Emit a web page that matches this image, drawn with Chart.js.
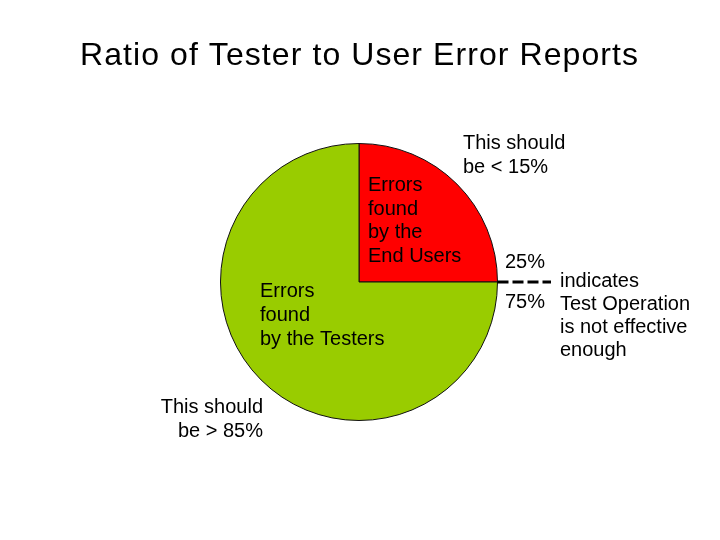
<!DOCTYPE html>
<html>
<head>
<meta charset="utf-8">
<script src="https://cdn.jsdelivr.net/npm/chart.js@4/dist/chart.umd.min.js"></script>
<style>
    body { margin: 0; background: #fff; }
    canvas { display: block; }
</style>
</head>
<body>
<canvas id="pieChart" width="720" height="540"></canvas>
<script>
// ========================================
// Data
// ========================================

const categories = ['Errors found by the End Users', 'Errors found by the Testers'];
const shares = [25, 75];
const sliceColors = ['#ff0000', '#99cc00'];

const titleText = 'Ratio of Tester to User Error Reports';

// ========================================
// Text drawn on top of the pie
// ========================================

const FONT = '"Liberation Sans", Arial, sans-serif';

function drawLines(ctx, lines, x, y, step, align) {
    ctx.textAlign = align;
    lines.forEach((line, i) => {
        ctx.fillText(line, x, y + i * step);
    });
}

const notesPlugin = {
    id: 'notes',
    afterDraw(chart) {
        const ctx = chart.ctx;
        const arc = chart.getDatasetMeta(0).data[0];
        const cx = arc.x;
        const cy = arc.y;
        const r = arc.outerRadius;

        ctx.save();
        ctx.fillStyle = '#000';
        ctx.textBaseline = 'alphabetic';

        // title, fitted to the reference width (80 .. 638)
        ctx.font = '32px ' + FONT;
        const w = ctx.measureText(titleText).width;
        ctx.letterSpacing = ((558 - w) / (titleText.length - 1)) + 'px';
        ctx.textAlign = 'left';
        ctx.fillText(titleText, 80, 65);
        ctx.letterSpacing = '0px';

        ctx.font = '20px ' + FONT;

        // labels inside the slices
        drawLines(ctx, ['Errors', 'found', 'by the', 'End Users'], cx + 9, 191, 23.7, 'left');
        drawLines(ctx, ['Errors', 'found', 'by the Testers'], 260, 297, 24, 'left');

        // targets
        drawLines(ctx, ['This should', 'be < 15%'], 463, 149, 24, 'left');
        drawLines(ctx, ['This should', 'be > 85%'], 263, 413, 23.5, 'right');

        // split marker
        drawLines(ctx, ['25%'], 505, 268, 0, 'left');
        drawLines(ctx, ['75%'], 505, 308, 0, 'left');
        drawLines(ctx, ['indicates', 'Test Operation', 'is not effective', 'enough'], 560, 287, 23, 'left');

        ctx.strokeStyle = '#000';
        ctx.lineWidth = 3;
        ctx.setLineDash([11, 4]);
        ctx.beginPath();
        ctx.moveTo(cx + r, cy);
        ctx.lineTo(551, cy);
        ctx.stroke();

        ctx.restore();
    }
};

// ========================================
// Chart
// ========================================

const ctx = document.getElementById('pieChart').getContext('2d');
const pieChart = new Chart(ctx, {
    type: 'pie',
    data: {
        labels: categories,
        datasets: [{
            data: shares,
            backgroundColor: sliceColors,
            borderColor: '#111',
            borderWidth: 1
        }]
    },
    options: {
        responsive: false,
        animation: false,
        layout: {
            padding: { left: 220, right: 222, top: 143, bottom: 119 }
        },
        plugins: {
            legend: { display: false },
            tooltip: { enabled: false },
            title: { display: false }
        }
    },
    plugins: [notesPlugin]
});
</script>
</body>
</html>
